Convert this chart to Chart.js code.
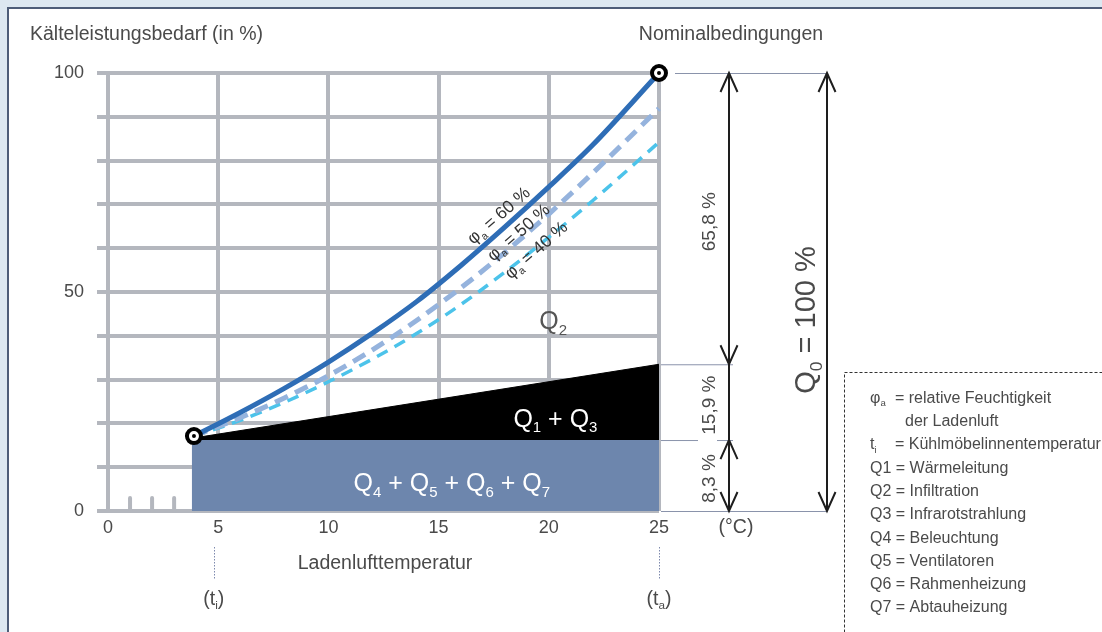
<!DOCTYPE html>
<html>
<head>
<meta charset="utf-8">
<script src="https://cdn.jsdelivr.net/npm/chart.js@4.4.1/dist/chart.umd.min.js"></script>
<style>
  body { margin: 0; background: #dde8f1; width: 1102px; height: 632px; overflow: hidden; position: relative; }
  #panel { position: absolute; left: 7px; top: 7px; width: 1200px; height: 700px; background: #fff; border: 2px solid #4e5d78; }
  #c { position: absolute; left: 0; top: 0; }
</style>
</head>
<body>
<div id="panel"></div>
<canvas id="c" width="1102" height="632"></canvas>
<script>
// Werte
const yTickLabels = [0, 50, 100];
const minorTicks = [1, 2, 3, 4, 6, 7, 8, 9];
const curveTemps = [3.9, 6, 8, 10, 12, 14, 16, 18, 20, 22, 25];
const phi60 = [17.1, 22.5, 28.0, 34.0, 40.6, 47.8, 56.0, 64.8, 74.0, 83.6, 100];
const phi50 = [17.1, 21.3, 25.8, 30.9, 36.8, 43.5, 50.9, 59.0, 67.8, 77.2, 91.9];
const phi40 = [17.1, 20.7, 24.8, 29.5, 34.7, 40.5, 47.1, 54.5, 62.5, 70.9, 84.2];
const baseTemps = [3.8, 25];
const baseLoad = [16.2, 16.2];   // Q4 + Q5 + Q6 + Q7
const wallLoad = [16.6, 33.5];   // Oberkante Q1 + Q3
const markerTemps = [3.9, 25];
const markerLoad = [17.1, 100];
const shareLabels = ['65,8 %', '15,9 %', '8,3 %'];
const legendRows = [
  ['φ_a', '= relative Feuchtigkeit'],
  ['', 'der Ladenluft'],
  ['t_i', '= Kühlmöbelinnentemperatur'],
  ['Q1 = Wärmeleitung', ''],
  ['Q2 = Infiltration', ''],
  ['Q3 = Infrarotstrahlung', ''],
  ['Q4 = Beleuchtung', ''],
  ['Q5 = Ventilatoren', ''],
  ['Q6 = Rahmenheizung', ''],
  ['Q7 = Abtauheizung', '']
];

const FONT = '"Liberation Sans", Arial, sans-serif';
const GRID = '#b4b7be';
const TXT = '#4a4a4a';

function pts(xs, ys) {
  return xs.map((x, i) => ({ x: x, y: ys[i] }));
}

// Text mit Tiefstellung: "_x" = x tiefgestellt
function rich(ctx, s, x, y, size, color, align) {
  let segs = [];
  for (let i = 0; i < s.length; i++) {
    if (s[i] === '_' && i + 1 < s.length) {
      segs.push({ t: s[i + 1], sub: true });
      i++;
    } else if (segs.length && !segs[segs.length - 1].sub) {
      segs[segs.length - 1].t += s[i];
    } else {
      segs.push({ t: s[i], sub: false });
    }
  }
  let w = 0;
  segs.forEach(sg => {
    ctx.font = (sg.sub ? size * 0.6 : size) + 'px ' + FONT;
    sg.w = ctx.measureText(sg.t).width;
    w += sg.w;
  });
  let cx = align === 'center' ? x - w / 2 : x;
  ctx.fillStyle = color;
  ctx.textAlign = 'left';
  ctx.textBaseline = 'alphabetic';
  segs.forEach(sg => {
    ctx.font = (sg.sub ? size * 0.6 : size) + 'px ' + FONT;
    ctx.fillText(sg.t, cx, y + size * 0.36 + (sg.sub ? size * 0.22 : 0));
    cx += sg.w;
  });
}

function rotText(ctx, s, x, y, size, color, angle) {
  ctx.save();
  ctx.translate(x, y);
  ctx.rotate(angle);
  rich(ctx, s, 0, 0, size, color, 'center');
  ctx.restore();
}

function arrow(ctx, x, y1, y2, heads) {
  ctx.beginPath();
  ctx.moveTo(x, y1);
  ctx.lineTo(x, y2);
  if (heads) {
    ctx.moveTo(x - 8.5, y1 + 19); ctx.lineTo(x, y1); ctx.lineTo(x + 8.5, y1 + 19);
    ctx.moveTo(x - 8.5, y2 - 19); ctx.lineTo(x, y2); ctx.lineTo(x + 8.5, y2 - 19);
  }
  ctx.stroke();
}

const decor = {
  id: 'decor',
  beforeDatasetsDraw(chart) {
    const ctx = chart.ctx, xs = chart.scales.x, ys = chart.scales.y;
    ctx.save();
    ctx.strokeStyle = GRID;
    ctx.lineWidth = 4;
    ctx.lineCap = 'round';
    minorTicks.forEach(t => {
      let px = xs.getPixelForValue(t);
      ctx.beginPath();
      ctx.moveTo(px, ys.getPixelForValue(0));
      ctx.lineTo(px, ys.getPixelForValue(0) - 13);
      ctx.stroke();
    });
    ctx.restore();
  },
  afterDatasetsDraw(chart) {
    const ctx = chart.ctx, xs = chart.scales.x, ys = chart.scales.y;
    const X = v => xs.getPixelForValue(v), Y = v => ys.getPixelForValue(v);
    const right = chart.chartArea.right;
    const col1 = right + 70, col2 = right + 168;
    const bounds = [markerLoad[1], wallLoad[1], baseLoad[1], 0];
    ctx.save();

    // Hilfslinien rechts
    ctx.strokeStyle = '#8a93ab';
    ctx.lineWidth = 1;
    ctx.beginPath();
    ctx.moveTo(right + 16, Y(bounds[0]) + 0.5); ctx.lineTo(col2, Y(bounds[0]) + 0.5);
    ctx.moveTo(right + 2, Y(bounds[1]) + 0.5); ctx.lineTo(col1 + 4, Y(bounds[1]) + 0.5);
    ctx.moveTo(right + 2, Y(bounds[2]) + 0.5); ctx.lineTo(col1 - 31, Y(bounds[2]) + 0.5);
    ctx.moveTo(col1 - 12, Y(bounds[2]) + 0.5); ctx.lineTo(col1 + 4, Y(bounds[2]) + 0.5);
    ctx.moveTo(right + 2, Y(0) + 0.5); ctx.lineTo(col2, Y(0) + 0.5);
    ctx.stroke();

    // Pfeile
    ctx.strokeStyle = '#1e1e1e';
    ctx.lineWidth = 2;
    arrow(ctx, col1, Y(bounds[0]), Y(bounds[1]), true);
    arrow(ctx, col1, Y(bounds[1]), Y(bounds[2]), false);
    arrow(ctx, col1, Y(bounds[2]), Y(bounds[3]), true);
    arrow(ctx, col2, Y(bounds[0]), Y(bounds[3]), true);

    // Anteile
    for (let i = 0; i < shareLabels.length; i++) {
      rotText(ctx, shareLabels[i], col1 - 21, (Y(bounds[i]) + Y(bounds[i + 1])) / 2 + 3, 19, TXT, -Math.PI / 2);
    }
    rotText(ctx, 'Q_0 = 100 %', col2 - 22, (Y(bounds[0]) + Y(bounds[3])) / 2 + 28, 29, TXT, -Math.PI / 2);

    // Flächenbeschriftungen
    rich(ctx, 'Q_2', X(20.2), Y(43.6), 25, '#555', 'center');
    rich(ctx, 'Q_1 + Q_3', X(20.3), Y(21.3), 25, '#fff', 'center');
    rich(ctx, 'Q_4 + Q_5 + Q_6 + Q_7', X(15.6), Y(6.6), 25, '#fff', 'center');

    // Kurvenbeschriftungen
    const ang = -0.72;
    rotText(ctx, 'φ_a = 60 %', X(17.7), Y(67.6), 17.5, '#333', ang);
    rotText(ctx, 'φ_a = 50 %', X(18.6), Y(63.7), 17.5, '#333', ang);
    rotText(ctx, 'φ_a = 40 %', X(19.4), Y(59.7), 17.5, '#333', ang);

    // Titel
    rich(ctx, 'Kälteleistungsbedarf (in %)', 30, 33, 19.5, TXT, 'left');
    rich(ctx, 'Nominalbedingungen', X(25) + 72, 33, 19.5, TXT, 'center');
    rich(ctx, '(°C)', col1 + 7, Y(0) + 15, 19.5, TXT, 'center');
    rich(ctx, 'Ladenlufttemperatur', 385, Y(0) + 51, 19.5, TXT, 'center');

    // ti / ta
    ctx.strokeStyle = '#7d89ad';
    ctx.lineWidth = 1;
    ctx.setLineDash([1.5, 1.5]);
    [4.8, 25].forEach(t => {
      ctx.beginPath();
      ctx.moveTo(Math.round(X(t)) + 0.5, Y(0) + 36);
      ctx.lineTo(Math.round(X(t)) + 0.5, Y(0) + 69);
      ctx.stroke();
    });
    ctx.setLineDash([]);
    rich(ctx, '(t_i)', X(4.8), Y(0) + 87, 19.5, TXT, 'center');
    rich(ctx, '(t_a)', X(25), Y(0) + 87, 19.5, TXT, 'center');

    // Legende
    ctx.strokeStyle = '#333';
    ctx.lineWidth = 1;
    ctx.setLineDash([3, 2]);
    ctx.strokeRect(844.5, 372.5, 400, 400);
    ctx.setLineDash([]);
    legendRows.forEach((r, i) => {
      let y = 397 + i * 23.3;
      if (r[0] === '') {
        rich(ctx, r[1], 905, y, 16, TXT, 'left');
      } else {
        rich(ctx, r[0], 870, y, 16, TXT, 'left');
        if (r[1]) rich(ctx, r[1], 895, y, 16, TXT, 'left');
      }
    });
    ctx.restore();
  }
};

let Canvas = document.getElementById('c').getContext('2d');
let chart = new Chart(Canvas, {
  type: 'line',
  data: {
    datasets: [
      { data: pts(baseTemps, baseLoad), fill: 'origin', backgroundColor: '#6d86ad', borderWidth: 0, pointRadius: 0, order: 7 },
      { data: pts(baseTemps, wallLoad), fill: { value: baseLoad[0] }, backgroundColor: '#000', borderColor: '#000', borderWidth: 1, pointRadius: 0, order: 6 },
      { data: pts(curveTemps, phi40), borderColor: '#4cc3ea', borderWidth: 3.5, borderDash: [12, 8], pointRadius: 0, cubicInterpolationMode: 'monotone', clip: false, order: 5 },
      { data: pts(curveTemps, phi50), borderColor: '#95b3dd', borderWidth: 5, borderDash: [14, 8], pointRadius: 0, cubicInterpolationMode: 'monotone', clip: false, order: 4 },
      { data: pts(curveTemps, phi60), borderColor: '#2e6db6', borderWidth: 5, pointRadius: 0, cubicInterpolationMode: 'monotone', clip: false, order: 3 },
      { data: pts(markerTemps, markerLoad), showLine: false, pointRadius: 7, pointBackgroundColor: '#fff', pointBorderColor: '#000', pointBorderWidth: 4, clip: false, order: 2 },
      { data: pts(markerTemps, markerLoad), showLine: false, pointRadius: 2, pointBackgroundColor: '#000', pointBorderWidth: 0, clip: false, order: 1 }
    ]
  },
  options: {
    responsive: false,
    animation: false,
    layout: { padding: { left: 48, top: 73, right: 443, bottom: 91 } },
    plugins: { legend: { display: false }, tooltip: { enabled: false } },
    scales: {
      x: {
        type: 'linear', min: 0, max: 25,
        afterFit: s => { s.height = 30; },
        grid: { color: GRID, lineWidth: 4, drawTicks: false },
        border: { display: false },
        ticks: { stepSize: 5, padding: 6, color: TXT, font: { family: FONT, size: 18 } }
      },
      y: {
        min: 0, max: 100,
        afterFit: s => { s.width = 60; },
        grid: { color: GRID, lineWidth: 4, tickLength: 11 },
        border: { display: false },
        ticks: {
          stepSize: 10, padding: 13, autoSkip: false, color: TXT, font: { family: FONT, size: 18 },
          callback: v => yTickLabels.includes(v) ? String(v) : ''
        }
      }
    }
  },
  plugins: [decor]
});
</script>
</body>
</html>
